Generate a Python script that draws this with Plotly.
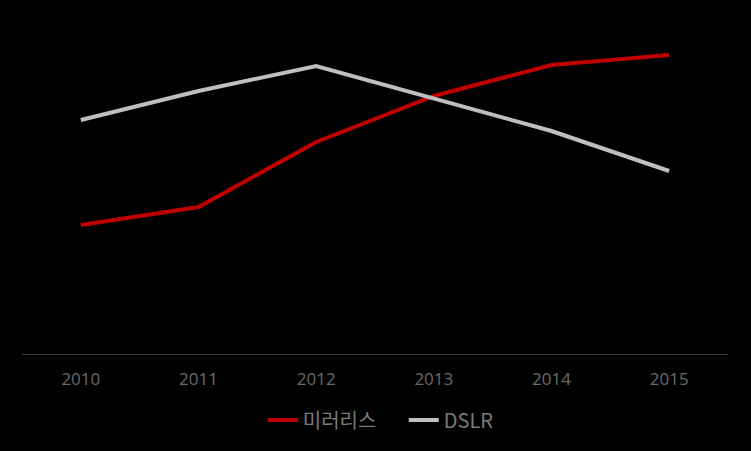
import plotly.graph_objects as go

years = ["2010", "2011", "2012", "2013", "2014", "2015"]
mirrorless = [129, 147, 212, 258, 289, 299]
dslr = [234, 263, 288, 255, 223, 183]

fig = go.Figure()
fig.add_trace(go.Scatter(x=years, y=mirrorless, mode="lines", name="미러리스",
                         line=dict(color="#c00000", width=4)))
fig.add_trace(go.Scatter(x=years, y=dslr, mode="lines", name="DSLR",
                         line=dict(color="#bfbfbf", width=4)))

fig.update_layout(
    width=751, height=451,
    margin=dict(l=22, r=23, t=24, b=97),
    paper_bgcolor="black", plot_bgcolor="black",
    font=dict(family="Noto Sans CJK KR, sans-serif", color="#7f7f7f", size=16),
    showlegend=True,
    legend=dict(orientation="h", x=0.341, xanchor="left", y=-0.2, yanchor="middle",
                font=dict(size=20, color="#7a7a7a"), bgcolor="rgba(0,0,0,0)",
                entrywidth=96, tracegroupgap=0),
    xaxis=dict(type="category", range=[-0.5, 5.5], showgrid=False, zeroline=False,
               showline=True, linecolor="#404040", linewidth=1,
               ticks="", ticklabelstandoff=10,
               tickfont=dict(size=17, color="#6b6b6b", family="Open Sans, sans-serif")),
    yaxis=dict(range=[0, 330], showgrid=False, zeroline=False, showticklabels=False,
               showline=False),
)

fig.write_html("out.html")
